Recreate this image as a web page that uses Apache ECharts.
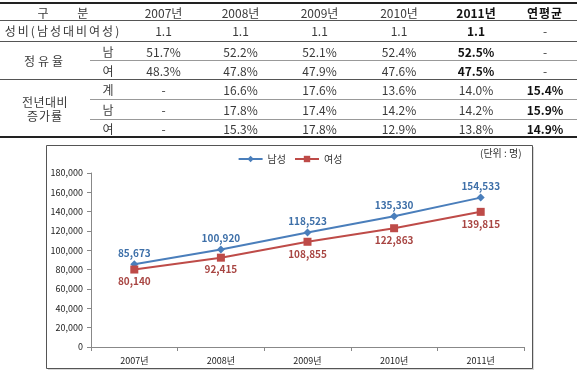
<!DOCTYPE html>
<html>
<head>
<meta charset="utf-8">
<script src="https://cdn.jsdelivr.net/npm/echarts@6/dist/echarts.min.js"></script>
<style>
  html, body { margin:0; padding:0; background:#fff; }
  #chart { position:absolute; left:0; top:0; width:580px; height:374px; }
  #tbl { position:absolute; left:0; top:0; width:580px; height:140px; z-index:2; font-family:"Noto Sans CJK KR","Noto Sans",sans-serif; font-size:12px; color:#3a3a3a; }
  #tbl .c { position:absolute; text-align:center; white-space:pre; height:16px; line-height:16px; }
  #tbl .b { font-weight:bold; color:#111; }
  #tbl .ln { position:absolute; }
</style>
</head>
<body>
<div id="chart"></div>
<div id="tbl"></div>
<script>
// ---- table data ----
const tableYears = ['2007년','2008년','2009년','2010년','2011년','연평균'];
const sexRatio = ['1.1','1.1','1.1','1.1','1.1','-'];
const shareMale = ['51.7%','52.2%','52.1%','52.4%','52.5%','-'];
const shareFemale = ['48.3%','47.8%','47.9%','47.6%','47.5%','-'];
const growthTotal = ['-','16.6%','17.6%','13.6%','14.0%','15.4%'];
const growthMale = ['-','17.8%','17.4%','14.2%','14.2%','15.9%'];
const growthFemale = ['-','15.3%','17.8%','12.9%','13.8%','14.9%'];

// ---- chart data ----
const categories = ['2007년','2008년','2009년','2010년','2011년'];
const maleCount = [85673,100920,118523,135330,154533];
const femaleCount = [80140,92415,108855,122863,139815];
const seriesNames = ['남성','여성'];

// ---- build table ----
const tbl = document.getElementById('tbl');
const colB = [126,201,280,359,439,513,577];
function cell(x0,x1,yc,text,cls,extra){
  const d=document.createElement('div');
  d.className='c'+(cls?' '+cls:'');
  d.style.left=x0+'px'; d.style.width=(x1-x0)+'px'; d.style.top=(yc-8)+'px';
  d.textContent=text;
  if(extra) Object.assign(d.style,extra);
  tbl.appendChild(d);
}
function line(x0,x1,y,h,color){
  const d=document.createElement('div');
  d.className='ln';
  d.style.left=x0+'px'; d.style.width=(x1-x0)+'px'; d.style.top=y+'px'; d.style.height=h+'px'; d.style.background=color;
  tbl.appendChild(d);
}
line(0,577,2,2,'#222');
line(0,577,20,1,'#555');
line(0,577,41,1,'#555');
line(90,577,60,1,'#999');
line(0,577,79,1,'#555');
line(90,577,99,1,'#999');
line(90,577,119,1,'#999');
line(0,577,136,2,'#222');

const rowsY=[13,31,52,71,90,110,129];
cell(0,126,rowsY[0],'구 분','',{wordSpacing:'26px'});
tableYears.forEach((t,i)=>cell(colB[i],colB[i+1],rowsY[0],t,i>=4?'b':'',i==5?{letterSpacing:'1px'}:null));
cell(0,126,rowsY[1],'성비(남성대비여성)','',{letterSpacing:'2px'});
cell(0,90,61,'정유율','',{letterSpacing:'3px'});
cell(90,126,rowsY[2],'남'); cell(90,126,rowsY[3],'여');
cell(0,90,102,'전년대비','',{letterSpacing:'0.5px'});
cell(0,90,116,'증가률','',{letterSpacing:'1px'});
cell(90,126,rowsY[4],'계'); cell(90,126,rowsY[5],'남'); cell(90,126,rowsY[6],'여');
const rowData=[[sexRatio,1,4],[shareMale,2,4],[shareFemale,3,4],[growthTotal,4,5],[growthMale,5,5],[growthFemale,6,5]];
rowData.forEach(([arr,r,boldIdx])=>{
  arr.forEach((v,i)=>cell(colB[i],colB[i+1],rowsY[r],v,(i===boldIdx && v!=='-')?'b':''));
});

// ---- chart ----
const fmt = v => String(v).replace(/\B(?=(\d{3})+(?!\d))/g, ',');
const chart = echarts.init(document.getElementById('chart'), null, {renderer:'canvas'});
const FONT = '"Noto Sans CJK KR","Noto Sans",sans-serif';
chart.setOption({
  animation:false,
  backgroundColor:'#fff',
  textStyle:{fontFamily:FONT},
  graphic:[
    {type:'rect', shape:{x:48,y:147,width:486,height:223}, style:{fill:'#d8d8d8'}, z:0},
    {type:'rect', shape:{x:46.5,y:145.5,width:486,height:223}, style:{fill:'#fff',stroke:'#555',lineWidth:1}, z:0},
    {type:'text', left:480, top:148, style:{text:'(단위 : 명)', fontSize:10, fill:'#333', fontFamily:FONT}}
  ],
  legend:{
    data:seriesNames, top:149, left:'center', itemWidth:24, itemHeight:8, itemGap:8,
    textStyle:{fontSize:10, color:'#333', fontFamily:FONT}
  },
  grid:{left:91, right:56, top:173, bottom:27},
  xAxis:{
    type:'category', data:categories, boundaryGap:true,
    axisLine:{lineStyle:{color:'#888', width:1}},
    axisTick:{show:true, length:4, lineStyle:{color:'#888'}},
    axisLabel:{fontSize:9, color:'#222', margin:9, fontFamily:FONT}
  },
  yAxis:{
    type:'value', min:0, max:180000, interval:20000,
    axisLine:{show:true, lineStyle:{color:'#888', width:1}},
    axisTick:{show:true, length:4, lineStyle:{color:'#888'}},
    splitLine:{show:false},
    axisLabel:{fontSize:9, color:'#222', margin:8, formatter:v=>fmt(v), fontFamily:FONT}
  },
  series:[
    {name:seriesNames[0], type:'line', data:maleCount, symbol:'diamond', symbolSize:8,
     lineStyle:{color:'#4a7ebb', width:2}, itemStyle:{color:'#4a7ebb'},
     label:{show:true, position:'top', distance:2, fontSize:10, fontWeight:'bold', color:'#3d6fa8', formatter:p=>fmt(p.value), fontFamily:FONT}},
    {name:seriesNames[1], type:'line', data:femaleCount, symbol:'rect', symbolSize:8,
     lineStyle:{color:'#be4b48', width:2}, itemStyle:{color:'#be4b48'},
     label:{show:true, position:'bottom', distance:3, fontSize:10, fontWeight:'bold', color:'#a84542', formatter:p=>fmt(p.value), fontFamily:FONT}}
  ]
});
</script>
</body>
</html>
